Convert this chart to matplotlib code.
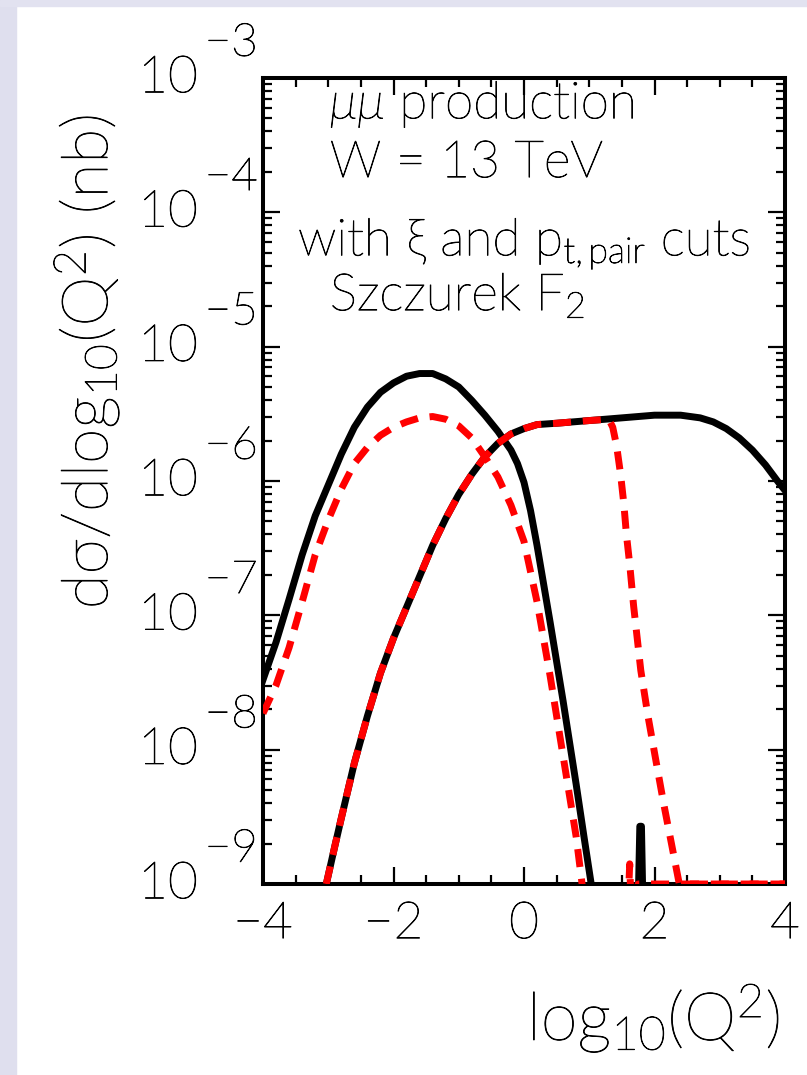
import matplotlib
matplotlib.use("Agg")
import matplotlib.pyplot as plt
import matplotlib.patheffects as pe
from matplotlib.patches import Rectangle
from matplotlib.ticker import MultipleLocator, LogLocator, NullFormatter
import numpy as np

plt.rcParams['font.family'] = ['Lato', 'DejaVu Sans']
plt.rcParams['font.weight'] = 'light'
plt.rcParams['mathtext.fontset'] = 'custom'
plt.rcParams['mathtext.rm'] = 'Lato:light'
plt.rcParams['mathtext.it'] = 'Lato:italic:light'
plt.rcParams['mathtext.sf'] = 'Lato:light'

# log10(Q^2) and log10(dsigma/dlog10Q^2 / nb)
# low-Q2 component: no cuts (black) and with cuts (red)
q_low_full = [-4.0, -3.8, -3.6, -3.4, -3.2, -3.0, -2.8, -2.6, -2.4, -2.2,
              -2.0, -1.8, -1.6, -1.4, -1.2, -1.0, -0.8, -0.6, -0.4, -0.3,
              -0.2, -0.1, 0.0, 0.1, 0.2, 0.4, 0.6, 0.8, 0.92, 1.03,
              1.10, 1.73, 1.775, 1.80, 1.84]
lg_low_full = [-7.48, -7.20, -6.88, -6.55, -6.26, -6.03, -5.80, -5.60, -5.45, -5.34,
               -5.27, -5.22, -5.20, -5.20, -5.24, -5.30, -5.40, -5.51, -5.63, -5.70,
               -5.77, -5.87, -6.01, -6.22, -6.48, -7.05, -7.64, -8.26, -8.65, -9.0,
               -9.6, -9.6, -8.57, -8.57, -9.6]

q_low_cut = [-4.0, -3.8, -3.6, -3.4, -3.2, -3.0, -2.8, -2.6, -2.4, -2.2,
             -2.0, -1.8, -1.6, -1.4, -1.2, -1.0, -0.8, -0.6, -0.4, -0.2,
             0.0, 0.2, 0.4, 0.6, 0.8, 0.89, 1.00, 1.56, 1.62, 1.67,
             1.75, 4.0]
lg_low_cut = [-7.73, -7.52, -7.24, -6.90, -6.55, -6.29, -6.06, -5.87, -5.75, -5.66,
              -5.60, -5.56, -5.53, -5.52, -5.54, -5.59, -5.68, -5.82, -5.97, -6.18,
              -6.45, -6.90, -7.45, -8.05, -8.65, -9.0, -9.6, -9.6, -8.85, -9.6,
              -9.0, -9.0]

# high-Q2 component: no cuts (black) and with cuts (red)
q_high_full = [-3.03, -2.9, -2.8, -2.6, -2.4, -2.2, -2.0, -1.8, -1.6, -1.4,
               -1.2, -1.0, -0.8, -0.6, -0.4, -0.2, 0.0, 0.2, 0.5, 1.0,
               1.5, 2.0, 2.4, 2.7, 2.9, 3.1, 3.3, 3.5, 3.7, 3.9,
               4.0]
lg_high_full = [-9.0, -8.72, -8.51, -8.10, -7.75, -7.43, -7.17, -6.94, -6.71, -6.48,
                -6.28, -6.10, -5.95, -5.82, -5.72, -5.65, -5.61, -5.58, -5.57, -5.55,
                -5.53, -5.51, -5.51, -5.53, -5.56, -5.61, -5.68, -5.77, -5.88, -6.01,
                -6.07]

q_high_cut = [-3.03, -2.9, -2.8, -2.6, -2.4, -2.2, -2.0, -1.8, -1.6, -1.4,
              -1.2, -1.0, -0.8, -0.6, -0.4, -0.2, 0.0, 0.2, 0.5, 1.0,
              1.30, 1.36, 1.42, 1.48, 1.53, 1.57, 1.62, 1.68, 1.79, 1.90,
              2.01, 2.14, 2.28, 2.38, 4.0]
lg_high_cut = [-9.0, -8.72, -8.51, -8.10, -7.75, -7.43, -7.17, -6.94, -6.71, -6.48,
               -6.28, -6.10, -5.95, -5.82, -5.72, -5.65, -5.61, -5.58, -5.57, -5.55,
               -5.54, -5.60, -5.74, -5.95, -6.17, -6.40, -6.62, -6.93, -7.41, -7.75,
               -8.05, -8.40, -8.75, -9.0, -9.0]

xticks = [-4, -2, 0, 2, 4]
xticklabels = ['\u22124', '\u22122', '0', '2', '4']
decades = [-9, -8, -7, -6, -5, -4, -3]

ink = [pe.withStroke(linewidth=0.6, foreground='black')]

fig = plt.figure(figsize=(8.07, 10.75), dpi=100)
fig.patches.append(Rectangle((0, 0), 16 / 807, 1, transform=fig.transFigure,
                             color='#dfdfee', zorder=-1))
fig.patches.append(Rectangle((0, 1 - 6 / 1075), 1, 6 / 1075, transform=fig.transFigure,
                             color='#e2e2f0', zorder=-1))

ax = fig.add_axes([263 / 807, 191 / 1075, 522 / 807, 806 / 1075])
ax.set_yscale('log')
ax.set_xlim(-4, 4)
ax.set_ylim(1e-9, 1e-3)

lw = 5.0
dash = (2.6, 1.7)
ax.plot(q_low_full, 10 ** np.array(lg_low_full), color='black', lw=lw, zorder=3)
ax.plot(q_high_full, 10 ** np.array(lg_high_full), color='black', lw=lw, zorder=3)
ax.plot(q_low_cut, 10 ** np.array(lg_low_cut), color='red', lw=lw,
        dashes=dash, zorder=3.2)
ax.plot(q_high_cut, 10 ** np.array(lg_high_cut), color='red', lw=lw,
        dashes=dash, zorder=3.2)

for sp in ax.spines.values():
    sp.set_linewidth(2.9)

ax.xaxis.set_minor_locator(MultipleLocator(0.5))
ax.set_xticks(xticks)
ax.set_xticklabels(xticklabels, fontsize=37)
for t in ax.get_xticklabels():
    t.set_path_effects(ink)
ax.yaxis.set_major_locator(LogLocator(base=10, numticks=20))
ax.yaxis.set_minor_locator(LogLocator(base=10, subs=np.arange(2, 10), numticks=20))
ax.yaxis.set_minor_formatter(NullFormatter())
ax.tick_params(which='both', direction='in', top=True, right=True, width=1.6)
ax.tick_params(which='major', length=12)
ax.tick_params(which='minor', length=6.5)
ax.tick_params(axis='x', pad=12)
ax.tick_params(axis='y', labelleft=False)

for e in decades:
    ax.annotate('10', xy=(0, 10.0 ** e), xycoords=('axes fraction', 'data'),
                xytext=(-47, 0), textcoords='offset points',
                ha='right', va='center', fontsize=37, path_effects=ink)
    ax.annotate('\u2212%d' % (-e), xy=(0, 10.0 ** e), xycoords=('axes fraction', 'data'),
                xytext=(-42, 25), textcoords='offset points',
                ha='left', va='center', fontsize=33, path_effects=ink)

txt = dict(transform=ax.transAxes, fontsize=37, va='baseline', path_effects=ink)
ax.text(0.128, 0.950, r'$\mu\mu$ production', **txt)
ax.text(0.128, 0.877, 'W = 13 TeV', **txt)
ax.text(0.067, 0.780, r'with ξ and p$_{\mathrm{t,pair}}$ cuts', **txt)
ax.text(0.128, 0.712, r'Szczurek F$_2$', **txt)

fig.text(780 / 807, 1 - 1040 / 1075, r'log$_{10}$(Q$^2$)', ha='right', va='baseline',
         fontsize=48, path_effects=ink)
fig.text(86 / 807, 1 - 362 / 1075, r'dσ/dlog$_{10}$(Q$^2$) (nb)', rotation=90,
         ha='center', va='center', fontsize=46, path_effects=ink)

fig.savefig('out.png', dpi=100)
